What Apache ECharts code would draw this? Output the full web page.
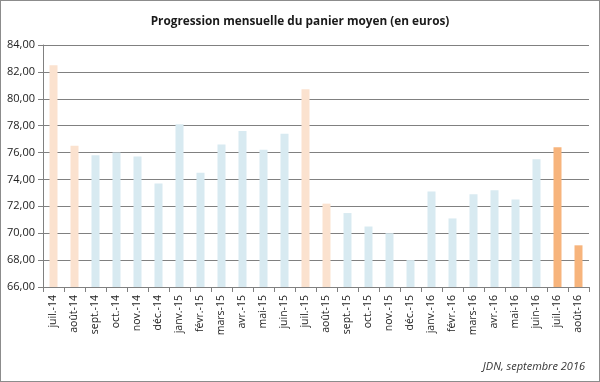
<!DOCTYPE html>
<html><head><meta charset="utf-8">
<script src="https://cdn.jsdelivr.net/npm/echarts@6/dist/echarts.min.js"></script>
<style>html,body{margin:0;padding:0;background:#fff}#c{width:600px;height:382px;box-sizing:border-box;border:1px solid #8c8c8c}</style>
</head><body><div id="c"></div>
<script>
const categories = ["juil.-14","août-14","sept.-14","oct.-14","nov.-14","déc.-14","janv.-15","févr.-15","mars-15","avr.-15","mai-15","juin-15","juil.-15","août-15","sept.-15","oct.-15","nov.-15","déc.-15","janv.-16","févr.-16","mars-16","avr.-16","mai-16","juin-16","juil.-16","août-16"];
const values = [82.5,76.5,75.8,76.0,75.7,73.7,78.1,74.5,76.6,77.6,76.2,77.4,80.7,72.2,71.5,70.5,70.0,68.0,73.1,71.1,72.9,73.2,72.5,75.5,76.4,69.1];
const colorGroup = ["peach","peach","blue","blue","blue","blue","blue","blue","blue","blue","blue","blue","peach","peach","blue","blue","blue","blue","blue","blue","blue","blue","blue","blue","orange","orange"];
const palette = {peach:"#fbe2cf", blue:"#d8eaf1", orange:"#f7b47c"};
const chart = echarts.init(document.getElementById('c'), null, {renderer:'canvas'});
chart.setOption({
  animation:false,
  title:{text:"Progression mensuelle du panier moyen (en euros)",left:'center',top:10,
    textStyle:{fontFamily:"Open Sans",fontWeight:'bold',fontSize:11.8,color:'#1a1a1a'}},
  graphic:[{type:'text',right:14,top:360,style:{text:"JDN, septembre 2016",font:"italic 11px 'Open Sans'",fill:'#333'}}],
  grid:{left:42,top:44,right:10,bottom:94,containLabel:false},
  xAxis:{type:'category',data:categories,
    axisLine:{lineStyle:{color:'#808080'}},
    axisTick:{show:true,length:5,lineStyle:{color:'#808080'}},
    axisLabel:{rotate:90,fontFamily:"Open Sans",fontSize:10.5,color:'#222',margin:8}},
  yAxis:{type:'value',min:66,max:84,interval:2,
    axisLine:{show:true,lineStyle:{color:'#808080'}},
    axisTick:{show:true,length:5,lineStyle:{color:'#808080'}},
    splitLine:{lineStyle:{color:'#808080',width:1}},
    axisLabel:{fontFamily:"Open Sans",fontSize:11,color:'#222',margin:8,
      formatter:v=>v.toFixed(2).replace('.',',')}},
  series:[{type:'bar',barWidth:8,
    data:values.map((v,i)=>({value:v,itemStyle:{color:palette[colorGroup[i]]}}))}]
});
</script></body></html>
